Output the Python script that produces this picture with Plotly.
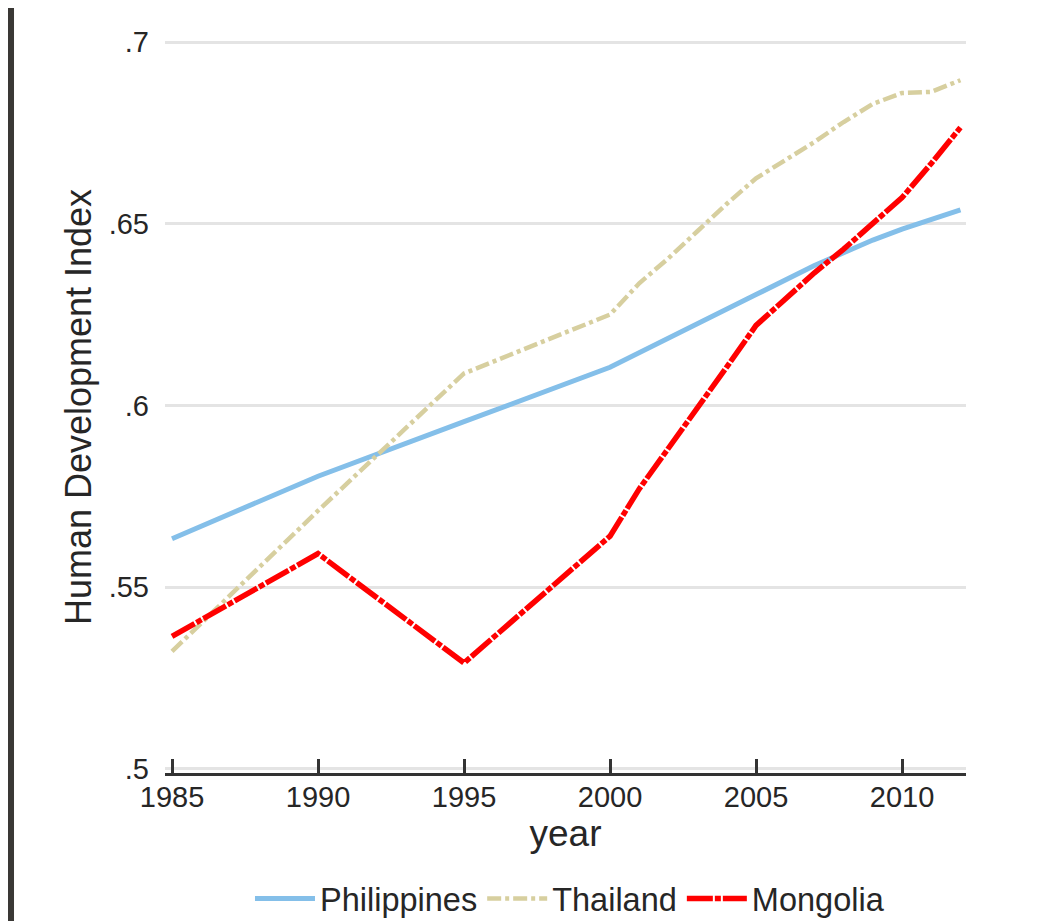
import plotly.graph_objects as go

# ---- data ----
phil_years = [1985, 1990, 1995, 2000, 2005, 2006, 2007, 2008, 2009, 2010, 2011, 2012]
phil_hdi = [0.5633, 0.5805, 0.5955, 0.6105, 0.6305, 0.6345, 0.6385, 0.6420, 0.6455, 0.6485, 0.6510, 0.6538]

thai_years = [1985, 1990, 1995, 2000, 2001, 2002, 2003, 2004, 2005, 2006, 2007, 2008, 2009, 2010, 2011, 2012]
thai_hdi = [0.5323, 0.5710, 0.6088, 0.6250, 0.6336, 0.6405, 0.6480, 0.6555, 0.6625, 0.6675, 0.6725, 0.6780, 0.6830, 0.6860, 0.6863, 0.6895]

mong_years = [1985, 1990, 1995, 2000, 2001, 2002, 2003, 2004, 2005, 2006, 2007, 2008, 2009, 2010, 2011, 2012]
mong_hdi = [0.5364, 0.5592, 0.5291, 0.5640, 0.5770, 0.5880, 0.5995, 0.6106, 0.6220, 0.6295, 0.6365, 0.6430, 0.6500, 0.6572, 0.6666, 0.6765]

x_ticks = [1985, 1990, 1995, 2000, 2005, 2010]
y_ticks = [0.5, 0.55, 0.6, 0.65, 0.7]
y_tick_labels = [".5", ".55", ".6", ".65", ".7"]

FONT = "Liberation Sans, Arial, sans-serif"
TXT = "#262626"

fig = go.Figure()
fig.add_trace(go.Scatter(x=phil_years, y=phil_hdi, mode="lines", name="Philippines",
                         line=dict(color="#84bfe9", width=5)))
fig.add_trace(go.Scatter(x=thai_years, y=thai_hdi, mode="lines", name="Thailand",
                         line=dict(color="#d7cf9f", width=4.5, dash="14px,4px,4px,4px")))
fig.add_trace(go.Scatter(x=mong_years, y=mong_hdi, mode="lines", name="Mongolia",
                         line=dict(color="#ff0000", width=5.5, dash="26px,2px,6px,2px")))

# white page area over the dark screenshot border
fig.add_shape(type="rect", xref="paper", yref="paper",
              x0=-0.1885, x1=1.1024, y0=-0.40, y1=1.2,
              fillcolor="white", line=dict(width=0), layer="below")

fig.update_layout(
    width=1044, height=940,
    margin=dict(l=157, r=86, t=33, b=175),
    paper_bgcolor="#3a3835",
    plot_bgcolor="white",
    font=dict(family=FONT, color=TXT, size=29),
    showlegend=True,
    legend=dict(orientation="h", x=0.5056, xanchor="center", y=-0.172, yanchor="middle",
                bgcolor="rgba(0,0,0,0)", font=dict(size=32.5, color=TXT),
                itemwidth=60, tracegroupgap=0),
    xaxis=dict(range=[1984.76, 2012.19], tickvals=x_ticks, ticks="inside", ticklen=14,
               tickwidth=3, tickcolor="#333333", showline=True, linecolor="#333333",
               linewidth=3, showgrid=False, zeroline=False, automargin=False,
               tickfont=dict(size=29, color=TXT), ticklabelstandoff=-4,
               title=dict(text="year", font=dict(size=37, color=TXT), standoff=0)),
    yaxis=dict(range=[0.4988, 0.7003], tickvals=y_ticks, ticktext=y_tick_labels,
               ticks="", showline=False, showgrid=True, gridcolor="#e4e4e4", gridwidth=3,
               zeroline=False, automargin=False, tickfont=dict(size=29, color=TXT),
               ticklabelstandoff=15,
               title=dict(text="Human Development Index", font=dict(size=36, color=TXT), standoff=6)),
)

fig.write_html("out.html")
